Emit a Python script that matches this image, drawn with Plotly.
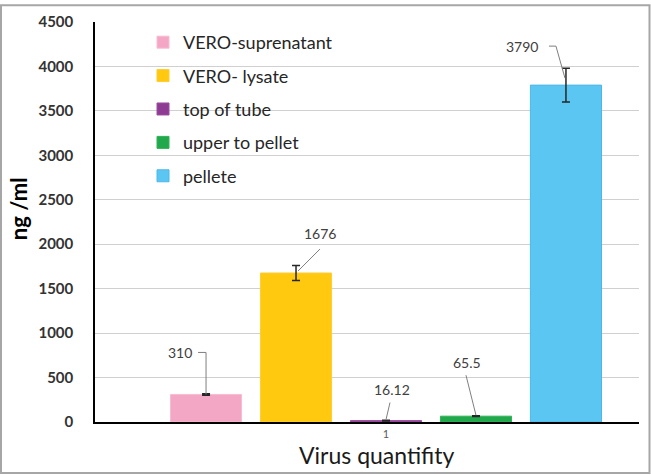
import plotly.graph_objects as go

# ---------------------------------------------------------------------------
# data
# ---------------------------------------------------------------------------
CATEGORY = "1"
SAMPLES = ["VERO-suprenatant", "VERO- lysate", "top of tube", "upper to pellet", "pellete"]
VALUES = [310, 1676, 16.12, 65.5, 3790]
ERRORS = [8, 85, 4, 5, 190]
LABELS = ["310", "1676", "16.12", "65.5", "3790"]

COLORS = ["#F4A7C5", "#FFC90F", "#8E3B93", "#22A84C", "#5BC6F2"]
EDGES = ["#F7BCD3", "#FFCC33", "#9B4FA0", "#2FB257", "#4DB8E8"]

FONT = "Lato, 'Liberation Sans', Arial, sans-serif"

# layout in pixels
W, H = 651, 475
ML, MR, MT, MB = 95, 12, 18, 53
PW, PH = W - ML - MR, H - MT - MB
BARGAP, GROUPGAP = 0.173, 0.21
SLOT = (1 - BARGAP) / len(SAMPLES)

# label offsets (px, y up) and leader-line paths relative to the bar top
LABEL_SHIFT = [(-26, 42), (24, 40), (6, 31), (-9, 54), (-44, 39)]
LEADERS = [
    "M-8,42 L0,42 L0,0",
    "M24,24 L2,2",
    "M4,18 L0,1",
    "M-10,41 L0,1",
    "M-17,39 L-10,39 L-1,7",
]

fig = go.Figure()
for name, val, err, col, edge in zip(SAMPLES, VALUES, ERRORS, COLORS, EDGES):
    fig.add_trace(go.Bar(
        x=[CATEGORY], y=[val], name=name, legendgroup=name,
        marker=dict(color=col, line=dict(color=edge, width=1)),
        error_y=dict(type="data", array=[err], color="#262626", thickness=1.5, width=4),
    ))

annotations = []
shapes = []
for i, (val, lab, (dx, dy), path) in enumerate(zip(VALUES, LABELS, LABEL_SHIFT, LEADERS)):
    xc = (i - (len(SAMPLES) - 1) / 2) * SLOT
    annotations.append(dict(
        x=xc, y=val, xref="x", yref="y", text=lab, showarrow=False,
        xanchor="center", yanchor="middle",
        xshift=dx, yshift=dy, font=dict(family=FONT, size=14, color="#404040"),
    ))
    shapes.append(dict(
        type="path", xref="x", yref="y", xsizemode="pixel", ysizemode="pixel",
        xanchor=xc, yanchor=val, path=path,
        line=dict(color="#7f7f7f", width=1),
    ))

# axis titles
annotations.append(dict(
    x=(18 - ML) / PW, y=(422 - 207) / PH, xref="paper", yref="paper",
    xanchor="center", yanchor="middle",
    text="<b>ng /ml</b>", textangle=-90, showarrow=False,
    font=dict(family=FONT, size=22, color="#000000"),
))
annotations.append(dict(
    x=(377 - ML) / PW, y=(422 - 455) / PH, xref="paper", yref="paper",
    xanchor="center", yanchor="middle",
    text="Virus quantifity", showarrow=False,
    font=dict(family=FONT, size=23, color="#1a1a1a"),
))

# outer frame around the whole picture
shapes.append(dict(
    type="rect", xref="paper", yref="paper", layer="above",
    x0=(1 - ML) / PW, x1=(W - 1.5 - ML) / PW,
    y0=(H - MB - (H - 1.5)) / PH, y1=(H - MB - 1) / PH,
    line=dict(color="#a6a6a6", width=2),
))

fig.update_layout(
    width=W, height=H,
    margin=dict(l=ML, r=MR, t=MT, b=MB),
    paper_bgcolor="white", plot_bgcolor="white",
    barmode="group", bargap=BARGAP, bargroupgap=GROUPGAP,
    font=dict(family=FONT, color="#404040"),
    showlegend=True,
    legend=dict(
        x=(143 - ML) / PW, y=(422 - 20) / PH, xanchor="left", yanchor="top",
        bgcolor="rgba(0,0,0,0)", traceorder="grouped", tracegroupgap=7,
        font=dict(family=FONT, size=18, color="#262626"),
    ),
    xaxis=dict(
        type="category", range=[-(386 - ML) / PW, (ML + PW - 386) / PW],
        showgrid=False, showline=True, linecolor="#000000", linewidth=1.5,
        ticks="", ticklabelstandoff=1,
        tickfont=dict(family=FONT, size=11, color="#595959"),
    ),
    yaxis=dict(
        range=[0, 4500], dtick=500, showgrid=True, gridcolor="#d0d0d0", gridwidth=1,
        showline=True, linecolor="#000000", linewidth=1.5, zeroline=False,
        ticks="", ticklabelstandoff=17,
        tickfont=dict(family=FONT, size=15, color="#333333", weight="bold"),
    ),
    annotations=annotations,
    shapes=shapes,
)

# drop the default page margin so the figure sits at the window corner
fig.write_html("out.html", config={"displayModeBar": False},
               post_script="document.body.style.margin='0';")
